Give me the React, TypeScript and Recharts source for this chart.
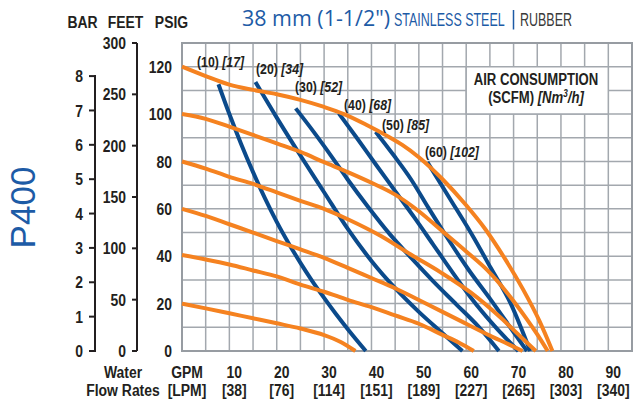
import React from 'react';
import { LineChart, Line, XAxis, YAxis, CartesianGrid, ReferenceArea } from 'recharts';

type Pt = [number, number];

// pump head curves, one per inlet air pressure: [GPM, PSIG]
const head120: Pt[] = [[0, 120], [5, 116], [10, 112.4], [15, 110.2], [20, 108.4], [25, 106], [30, 103], [34.2, 100], [39, 95.4], [43.3, 90.8], [46.5, 87], [50, 81.8], [55, 72.5], [60, 61.5], [64, 51.5], [68, 39.5], [72, 26], [75.5, 12.5], [78.2, 0]];
const head100: Pt[] = [[0, 100], [5, 98], [10, 94.7], [15, 91.2], [20, 87.6], [25, 84], [30, 79.7], [35, 75.5], [40, 71], [45, 66], [50, 59], [55, 50.5], [60, 42], [64.5, 34], [68.7, 24.4], [72.6, 14], [75, 7], [77.2, 0]];
const head80: Pt[] = [[0, 80], [5, 77], [10, 73.5], [15, 70.5], [20, 67], [25, 63.4], [30, 60], [35, 55.6], [42, 48.5], [48.3, 40.7], [54.6, 33.2], [61, 24.6], [67.3, 14], [71.5, 6], [74.7, 0]];
const head60: Pt[] = [[0, 60], [5, 57], [10, 53.5], [15, 50], [20, 46.4], [25, 42.9], [30, 39.3], [35, 35.1], [40, 30.8], [45, 26.5], [50, 21.5], [55, 16.5], [60, 11.5], [65, 6.5], [69, 2.8], [71.9, 0]];
const head40: Pt[] = [[0, 40.5], [5, 38.6], [10, 36.5], [15, 34], [20, 31.5], [25, 28], [30, 25], [35, 21.6], [40, 18.5], [45, 15], [50, 11.5], [55, 6.8], [58.5, 3.5], [61.6, 0]];
const head20: Pt[] = [[0, 20], [5, 18], [10, 15.9], [15, 13.8], [20, 11.7], [25, 9.5], [30, 6.7], [33.5, 3.8], [36.6, 0]];

// air consumption curves (SCFM): [GPM, PSIG]
const air10: Pt[] = [[7.7, 112.6], [10, 100], [12.5, 87.3], [15, 75.5], [17.5, 64.5], [20, 54.5], [22.5, 45.5], [25, 37.2], [27.5, 29.5], [30, 22.4], [32.5, 15.6], [35, 9.2], [38.8, 0]];
const air20: Pt[] = [[15.5, 113.5], [20, 98.5], [25, 82.5], [30, 67], [35, 51.5], [40, 38], [45, 26.5], [50, 16.5], [55, 7.5], [59.2, 0]];
const air30: Pt[] = [[24, 102.4], [27.8, 92.5], [31.4, 82.6], [34.9, 72.6], [39.1, 61.3], [44, 49], [48.3, 39.5], [53, 29.5], [58, 19.5], [62.5, 10.5], [66.9, 0]];
const air40: Pt[] = [[33.1, 100.3], [37, 89.7], [41, 78.5], [45, 67.5], [49, 56.5], [53, 45], [57, 33.5], [61, 22.5], [66, 10.5], [71, 0]];
const air50: Pt[] = [[40.9, 92.5], [44.7, 82.6], [48.3, 72.6], [52, 60.5], [56, 47.8], [60.5, 34.3], [65.2, 21.6], [69.4, 9.7], [72.8, 0]];
const air60: Pt[] = [[51.8, 79.7], [56.5, 64.5], [61.6, 47.8], [65.2, 35], [69.4, 20], [73.5, 0]];

const headCurves = [head120, head100, head80, head60, head40, head20];
const airCurves = [air10, air20, air30, air40, air50, air60];

const gpmTicks = [0, 5, 10, 15, 20, 25, 30, 35, 40, 45, 50, 55, 60, 65, 70, 75, 80, 85, 90, 95];
const gpmLabels = [10, 20, 30, 40, 50, 60, 70, 80, 90];
const lpmLabels = ['38', '76', '114', '151', '189', '227', '265', '303', '340'];
const psiTicks = [0, 10, 20, 30, 40, 50, 60, 70, 80, 90, 100, 110, 120, 130];
const feetTicks = [0, 50, 100, 150, 200, 250, 300];
const barTicks = [0, 1, 2, 3, 4, 5, 6, 7, 8];

const PSI_TOP = 130;
const BAR_TOP = PSI_TOP / 14.5038;
const FEET_TOP = 300;

const ORANGE = '#f58220';
const BLUE = '#0b4a8b';
const TITLE_BLUE = '#1d5ba6';
const INK = '#231f20';
const GRID = '#a3a8ae';
const SANS = '"Liberation Sans", Arial, sans-serif';

// left axes are laid out by id order: a = next to the plot, c = outermost
const PSI_AXIS = 'a_psi';
const FEET_AXIS = 'b_feet';
const BAR_AXIS = 'c_bar';

// bold text squeezed horizontally to mimic a condensed face
const NText = ({ x, y, anchor = 'start', size = 17, dy, sx = 0.82, weight = 700, fill = INK, children }: any) => (
  <text transform={`translate(${x},${y}) scale(${sx},1)`} dy={dy} textAnchor={anchor}
    style={{ fontFamily: SANS, fontSize: size, fontWeight: weight, fill }}>
    {children}
  </text>
);

const toRows = (pts: Pt[]) => pts.map(([gpm, psig]) => ({ gpm, psig }));

const GpmTick = (props: any) => {
  const { x, y, payload } = props;
  const v = payload.value;
  if (v === 0) {
    return (
      <g>
        <NText x={x - 59} y={y + 27} anchor="middle">Water</NText>
        <NText x={x - 59} y={y + 45} anchor="middle">Flow Rates</NText>
        <NText x={x + 5} y={y + 27} anchor="middle">GPM</NText>
        <NText x={x + 5} y={y + 45} anchor="middle">[LPM]</NText>
      </g>
    );
  }
  const i = gpmLabels.indexOf(v);
  if (i < 0) return <g />;
  return (
    <g>
      <NText x={x + 5} y={y + 27} anchor="middle">{v}</NText>
      <NText x={x + 5} y={y + 45} anchor="middle">[{lpmLabels[i]}]</NText>
    </g>
  );
};

const PsiTick = (props: any) => {
  const { x, y, payload } = props;
  const v = payload.value;
  if (v % 20 !== 0 || v > 120) return <g />;
  return <NText x={x} y={y} dy="0.36em" anchor="end">{v}</NText>;
};

const FeetTick = (props: any) => {
  const { x, y, payload } = props;
  return <NText x={x} y={y} dy="0.36em" anchor="end">{payload.value}</NText>;
};

const BarTick = (props: any) => {
  const { x, y, payload, height } = props;
  const axisX = x + 6 + 6;
  const unit = height / BAR_TOP;
  return (
    <g>
      {payload.value === 0 && (
        <line x1={axisX} x2={axisX} y1={y + 1} y2={y - unit * 8 - 1} stroke={INK} strokeWidth={2} />
      )}
      <NText x={x} y={y} dy="0.36em" anchor="end">{payload.value}</NText>
    </g>
  );
};

const curveLabels = [
  { scfm: '(10)', nm3: '[17]', x: 197, y: 67 },
  { scfm: '(20)', nm3: '[34]', x: 256, y: 74 },
  { scfm: '(30)', nm3: '[52]', x: 295, y: 92 },
  { scfm: '(40)', nm3: '[68]', x: 344, y: 110 },
  { scfm: '(50)', nm3: '[85]', x: 382, y: 130 },
  { scfm: '(60)', nm3: '[102]', x: 425, y: 157 },
];

const Overlay = () => (
  <svg width={641} height={402} style={{ position: 'absolute', left: 0, top: 0, pointerEvents: 'none' }}>
    <text x={242} y={25.5} textLength={148} lengthAdjust="spacingAndGlyphs"
      style={{ fontFamily: '"Open Sans", "Noto Sans", sans-serif', fontSize: 21, fill: TITLE_BLUE }}>38 mm (1-1/2")</text>
    <NText x={394} y={25.5} size={18.5} sx={0.675} weight={400} fill={TITLE_BLUE}>STAINLESS STEEL</NText>
    <line x1={513.5} x2={513.5} y1={10} y2={29.5} stroke={TITLE_BLUE} strokeWidth={1.5} />
    <NText x={520} y={25.5} size={18.5} sx={0.675} weight={400} fill="#3a3a3a">RUBBER</NText>

    <NText x={82.5} y={27.5} anchor="middle">BAR</NText>
    <NText x={125.5} y={27.5} anchor="middle">FEET</NText>
    <NText x={171.5} y={27.5} anchor="middle">PSIG</NText>

    <text transform="translate(35,207.5) rotate(-90)" textAnchor="middle"
      style={{ fontFamily: SANS, fontSize: 35, fill: TITLE_BLUE }}>P400</text>

    {curveLabels.map((l) => (
      <NText key={l.scfm} x={l.x} y={l.y} size={15}>
        {l.scfm} <tspan fontStyle="italic">{l.nm3}</tspan>
      </NText>
    ))}

    <NText x={536} y={85} size={16} anchor="middle">AIR CONSUMPTION</NText>
    <NText x={536} y={103} size={16} anchor="middle">
      (SCFM) <tspan fontStyle="italic">[Nm</tspan><tspan fontStyle="italic" fontSize={10} dy={-6}>3</tspan><tspan fontStyle="italic" dy={6}>/h]</tspan>
    </NText>
  </svg>
);

export default function App() {
  return (
    <div style={{ position: 'absolute', left: 0, top: 0, width: 641, height: 402, background: '#fff' }}>
      <LineChart width={641} height={402} margin={{ top: 43, right: 9, bottom: 6, left: 50 }}>
        <CartesianGrid xAxisId="gpm" yAxisId={PSI_AXIS} stroke={GRID} strokeWidth={1.5} />
        <XAxis xAxisId="gpm" type="number" dataKey="gpm" domain={[0, 95]} ticks={gpmTicks} interval={0}
          axisLine={false} tickLine={false} tickSize={0} tickMargin={0} height={45} tick={<GpmTick />} />
        <YAxis yAxisId={PSI_AXIS} type="number" domain={[0, PSI_TOP]} ticks={psiTicks} interval={0}
          axisLine={false} tickLine={false} tickSize={0} tickMargin={10} width={45} tick={<PsiTick />} />
        <YAxis yAxisId={FEET_AXIS} type="number" domain={[0, FEET_TOP]} allowDataOverflow ticks={feetTicks} interval={0} width={42}
          tickSize={5} tickMargin={6} axisLine={{ stroke: INK, strokeWidth: 2 }} tickLine={{ stroke: INK, strokeWidth: 2 }}
          tick={<FeetTick />} />
        <YAxis yAxisId={BAR_AXIS} type="number" domain={[0, BAR_TOP]} allowDataOverflow ticks={barTicks} interval={0} width={45}
          tickSize={6} tickMargin={6} axisLine={false} tickLine={{ stroke: INK, strokeWidth: 2 }} tick={<BarTick />} />
        <ReferenceArea xAxisId="gpm" yAxisId={PSI_AXIS} x1={60} x2={90} y1={100} y2={120} fill="#fff" fillOpacity={1} stroke={GRID} strokeWidth={1.5} />
        <ReferenceArea xAxisId="gpm" yAxisId={PSI_AXIS} x1={0} x2={95} y1={0} y2={PSI_TOP} fill="none" stroke="#979ca2" strokeWidth={2} />
        {airCurves.map((pts, i) => (
          <Line key={`air-${i}`} xAxisId="gpm" yAxisId={PSI_AXIS} data={toRows(pts)} dataKey="psig" type="monotone"
            stroke={BLUE} strokeWidth={4} dot={false} activeDot={false} isAnimationActive={false} />
        ))}
        {headCurves.map((pts, i) => (
          <Line key={`head-${i}`} xAxisId="gpm" yAxisId={PSI_AXIS} data={toRows(pts)} dataKey="psig" type="monotone"
            stroke={ORANGE} strokeWidth={4} dot={false} activeDot={false} isAnimationActive={false} />
        ))}
      </LineChart>
      <Overlay />
    </div>
  );
}
